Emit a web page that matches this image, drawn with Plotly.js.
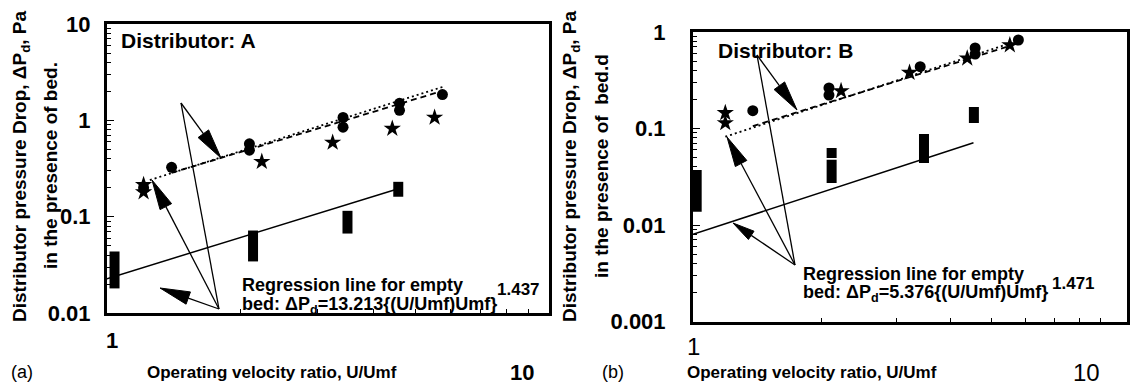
<!DOCTYPE html>
<html>
<head>
<meta charset="utf-8">
<script src="https://cdn.plot.ly/plotly-3.0.1.min.js"></script>
<style>html,body{margin:0;padding:0;background:#fff;}#chart{width:1138px;height:386px;}</style>
</head>
<body>
<div id="chart"></div>
<script>
// ---------- Data: Distributor A ----------
const circA_x = [1.21, 1.40, 2.10, 2.10, 3.42, 3.42, 4.59, 4.59, 5.74];
const circA_y = [0.20, 0.325, 0.57, 0.49, 1.07, 0.85, 1.50, 1.27, 1.85];
const starA_x = [1.21, 1.21, 2.24, 3.24, 4.42, 5.51];
const starA_y = [0.214, 0.18, 0.372, 0.589, 0.821, 1.07];
const sqA_x  = [1.04, 2.14, 3.50, 4.56];
const sqA_lo = [0.018, 0.0343, 0.0668, 0.161];
const sqA_hi = [0.0435, 0.0718, 0.115, 0.23];
const regA_x = [1.0, 4.56];
const regA_y = [0.0227, 0.195];
const fitA1_x = [1.25, 5.74];
const fitA1_y = [0.24, 2.22];
const fitA2_x = [1.40, 5.74];
const fitA2_y = [0.285, 2.02];

// ---------- Data: Distributor B ----------
const circB_x = [1.38, 2.08, 2.08, 3.40, 4.57, 4.57, 5.77];
const circB_y = [0.153, 0.263, 0.222, 0.437, 0.683, 0.59, 0.826];
const starB_x = [1.19, 1.19, 2.22, 3.21, 4.38, 5.51];
const starB_y = [0.145, 0.114, 0.245, 0.379, 0.534, 0.733];
const sqB_x  = [1.02, 2.11, 2.11, 3.47, 4.54];
const sqB_lo = [0.0137, 0.0272, 0.0495, 0.0439, 0.114];
const sqB_hi = [0.0372, 0.0475, 0.0628, 0.0877, 0.167];
const regB_x = [1.0, 4.53];
const regB_y = [0.008, 0.0713];
const fitB1_x = [1.19, 5.60];
const fitB1_y = [0.0822, 0.78];
const fitB2_x = [1.38, 5.77];
const fitB2_y = [0.106, 0.764];

// ---------- Tick labels ----------
const yTickA_vals = [0.01, 0.1, 1, 10];
const yTickA_text = ['0.01', '0.1', '1', '10'];
const yTickB_vals = [0.001, 0.01, 0.1, 1];
const yTickB_text = ['0.001', '0.01', '0.1', '1'];
const minorMult = [2, 3, 4, 5, 6, 7, 8, 9];

const W = 1138, H = 386;
const FONT = 'Liberation Sans, Arial, sans-serif';

function segs(xs, lo, hi) {
  const x = [], y = [];
  xs.forEach((v, i) => { x.push(v, v, null); y.push(lo[i], hi[i], null); });
  return {x, y};
}
function minorVals(decades) {
  const out = [];
  decades.forEach(d => minorMult.forEach(m => out.push(m * d)));
  return out;
}

const sA = segs(sqA_x, sqA_lo, sqA_hi);
const sB = segs(sqB_x, sqB_lo, sqB_hi);

const mk = (x, y, sym, size, xa, ya) => ({x, y, mode: 'markers', type: 'scatter', xaxis: xa, yaxis: ya,
  marker: {symbol: sym, size: size, color: 'black', line: {width: 0}}, hoverinfo: 'skip'});
const ln = (x, y, w, dash, xa, ya) => ({x, y, mode: 'lines', type: 'scatter', xaxis: xa, yaxis: ya,
  line: {color: 'black', width: w, dash: dash}, hoverinfo: 'skip', connectgaps: false});

const traces = [
  ln(regA_x, regA_y, 1.5, 'solid', 'x', 'y'),
  ln(fitA1_x, fitA1_y, 1.8, '2px,3px', 'x', 'y'),
  ln(fitA2_x, fitA2_y, 1.8, '6px,4px', 'x', 'y'),
  ln(sA.x, sA.y, 10, 'solid', 'x', 'y'),
  mk(circA_x, circA_y, 'circle', 11, 'x', 'y'),
  mk(starA_x, starA_y, 'star', 13, 'x', 'y'),
  ln(regB_x, regB_y, 1.5, 'solid', 'x2', 'y2'),
  ln(fitB1_x, fitB1_y, 1.8, '2px,3px', 'x2', 'y2'),
  ln(fitB2_x, fitB2_y, 1.8, '6px,4px', 'x2', 'y2'),
  ln(sB.x, sB.y, 10, 'solid', 'x2', 'y2'),
  mk(circB_x, circB_y, 'circle', 11, 'x2', 'y2'),
  mk(starB_x, starB_y, 'star', 13, 'x2', 'y2')
];

// ---------- Layout helpers (pixel -> paper) ----------
const px = v => v / W;
const py = v => 1 - v / H;

function xAxis(domain, range) {
  return {type: 'log', domain: domain, range: range, showline: true, linecolor: 'black', linewidth: 3,
    mirror: true, ticks: 'inside', ticklen: 4, tickwidth: 1, tickcolor: 'black',
    tickmode: 'array', tickvals: minorMult, showticklabels: false, showgrid: false, zeroline: false};
}
function yAxis(domain, range, vals, text, standoff, decades) {
  return {type: 'log', domain: domain, range: range, showline: true, linecolor: 'black', linewidth: 3,
    mirror: true, ticks: 'inside', ticklen: 7, tickwidth: 1, tickcolor: 'black',
    tickmode: 'array', tickvals: vals, ticktext: text, ticklabelstandoff: standoff,
    tickfont: {family: FONT, size: 22, color: 'black', weight: 'bold'},
    minor: {tickmode: 'array', tickvals: minorVals(decades), ticks: 'inside', ticklen: 4, tickwidth: 1, tickcolor: 'black', showgrid: false},
    showgrid: false, zeroline: false};
}

const annotations = [];
function txt(text, x, y, opts) {
  opts = opts || {};
  annotations.push({xref: 'paper', yref: 'paper', x: px(x), y: py(y), text: text, showarrow: false,
    xanchor: opts.xanchor || 'left', yanchor: 'middle', textangle: opts.angle || 0,
    font: {family: FONT, size: opts.size || 18, color: 'black', weight: opts.weight || 'bold'}});
}

const shapes = [];
function seg(a, b) {
  shapes.push({type: 'line', xref: 'paper', yref: 'paper', x0: px(a[0]), y0: py(a[1]), x1: px(b[0]), y1: py(b[1]),
    line: {color: 'black', width: 1.3}});
}
function arrow(from, to, L, Wd) {
  const dx = to[0] - from[0], dy = to[1] - from[1];
  const d = Math.hypot(dx, dy), ux = dx / d, uy = dy / d;
  const bx = to[0] - ux * L, by = to[1] - uy * L;
  const nx = -uy, ny = ux;
  seg(from, [bx, by]);
  const p1 = [bx + nx * Wd / 2, by + ny * Wd / 2], p2 = [bx - nx * Wd / 2, by - ny * Wd / 2];
  shapes.push({type: 'path', xref: 'paper', yref: 'paper',
    path: `M${px(to[0])},${py(to[1])} L${px(p1[0])},${py(p1[1])} L${px(p2[0])},${py(p2[1])} Z`,
    fillcolor: 'black', line: {color: 'black', width: 1}});
}

// Panel A decorations
const OA = [219, 309];
seg(OA, [181, 103]);
arrow([181, 103], [221, 158], 30, 13);
arrow(OA, [152, 180], 30, 13);
arrow(OA, [160, 288], 30, 13);
// Panel B decorations
const OB = [795, 265];
seg(OB, [757, 55]);
arrow([757, 55], [797, 110], 30, 13);
arrow(OB, [727, 137], 30, 13);
arrow(OB, [733, 223], 22, 10);

// Panel A texts
txt('Distributor: A', 119, 40, {size: 21});
txt('Regression line for empty', 240, 285);
txt('bed: ΔP<sub>d</sub>=13.213{(U/Umf)Umf}', 240, 305);
txt('1.437', 495, 289, {size: 17});
txt('Distributor pressure Drop, ΔP<sub>d</sub>, Pa', 21, 166, {angle: -90, size: 19, xanchor: 'center'});
txt('in the presence of bed.', 50, 166, {angle: -90, size: 19, xanchor: 'center'});
txt('1', 112, 340, {size: 22, xanchor: 'center'});
txt('10', 522, 372, {size: 22, xanchor: 'center'});
txt('Operating velocity ratio, U/Umf', 272, 372, {size: 17, xanchor: 'center'});
txt('(a)', 22, 372, {size: 18, xanchor: 'center', weight: 'normal'});
// Panel B texts
txt('Distributor: B', 716, 50, {size: 21});
txt('Regression line for empty', 801, 274);
txt('bed: ΔP<sub>d</sub>=5.376{(U/Umf)Umf}', 801, 293);
txt('1.471', 1050, 283, {size: 17});
txt('Distributor pressure Drop, ΔP<sub>d</sub>, Pa', 571, 166, {angle: -90, size: 19, xanchor: 'center'});
txt('in the presence of  bed.d', 601, 166, {angle: -90, size: 19, xanchor: 'center'});
txt('1', 693, 346, {size: 24, xanchor: 'center', weight: 'normal'});
txt('10', 1086, 372, {size: 24, xanchor: 'center', weight: 'normal'});
txt('Operating velocity ratio, U/Umf', 812, 372, {size: 17, xanchor: 'center'});
txt('(b)', 613, 372, {size: 18, xanchor: 'center', weight: 'normal'});

const layout = {
  width: W, height: H, margin: {l: 0, r: 0, t: 0, b: 0}, paper_bgcolor: 'white', plot_bgcolor: 'white',
  showlegend: false, font: {family: FONT, color: 'black'},
  xaxis: Object.assign(xAxis([px(107), px(549)], [0, 1]), {anchor: 'y'}),
  yaxis: Object.assign(yAxis([py(313), py(24)], [-2, 1], yTickA_vals, yTickA_text, 9, [0.01, 0.1, 1]), {anchor: 'x'}),
  xaxis2: Object.assign(xAxis([px(693), px(1127)], [0, 1.0152]), {anchor: 'y2'}),
  yaxis2: Object.assign(yAxis([py(321.5), py(32)], [-3, 0], yTickB_vals, yTickB_text, 20, [0.001, 0.01, 0.1]), {anchor: 'x2'}),
  annotations: annotations, shapes: shapes
};

Plotly.newPlot('chart', traces, layout, {staticPlot: true, displayModeBar: false});
</script>
</body>
</html>
